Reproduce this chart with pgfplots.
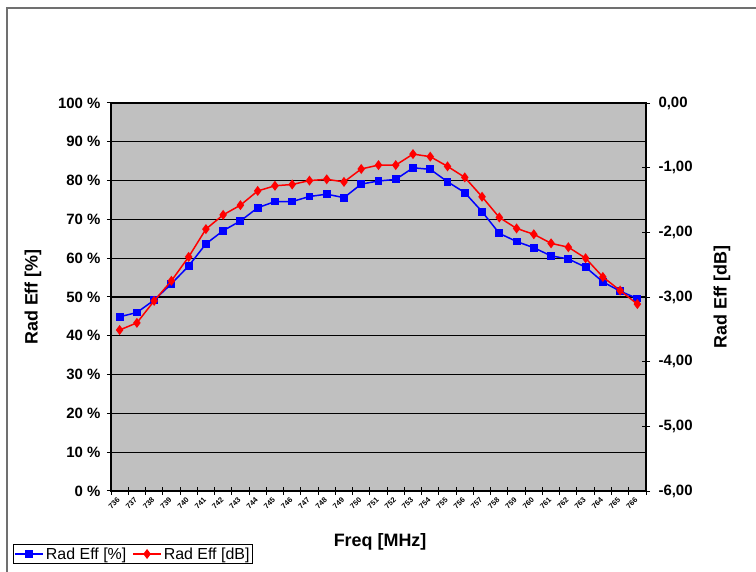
\documentclass[border=0pt]{standalone}
\usepackage{pgfplots}
\pgfplotsset{compat=1.18}
\usepackage{pgfplotstable}
\usepackage{fontspec}
\setmainfont{Liberation Sans}

\definecolor{plotgray}{HTML}{C0C0C0}
\definecolor{framegray}{HTML}{707070}
\definecolor{effblue}{HTML}{0000FF}
\definecolor{effred}{HTML}{FF0000}

% index 0..30 = 736..766 MHz
\pgfplotstableread{
i pct db
0 44.9 -3.51
1 46.0 -3.40
2 49.2 -3.06
3 53.4 -2.75
4 58.0 -2.38
5 63.7 -1.95
6 67.1 -1.73
7 69.6 -1.58
8 73.0 -1.36
9 74.6 -1.28
10 74.6 -1.26
11 75.9 -1.20
12 76.5 -1.18
13 75.6 -1.22
14 79.1 -1.02
15 79.9 -0.96
16 80.3 -0.96
17 83.3 -0.79
18 82.9 -0.83
19 79.7 -0.98
20 76.9 -1.15
21 72.0 -1.45
22 66.4 -1.77
23 64.3 -1.94
24 62.7 -2.03
25 60.6 -2.17
26 59.8 -2.23
27 57.7 -2.40
28 53.9 -2.69
29 51.5 -2.90
30 49.6 -3.11
}\effdata

\begin{document}
\begin{tikzpicture}
\path[use as bounding box] (0,0) rectangle (756bp,572bp);
\draw[framegray, line width=2bp] (7bp,0) -- (7bp,564bp) -- (756bp,564bp);

\pgfplotsset{
  effbase/.style={
    scale only axis, width=535bp, height=388bp,
    at={(111bp,81bp)}, anchor=south west,
    xmin=-0.5, xmax=30.5,
    axis line style={black, line width=1.2bp},
    tick style={black, line width=1bp},
    tick align=center, major tick length=8bp, minor tick length=8bp,
    /pgf/number format/assume math mode=true,
    tick label style={font=\bfseries\fontsize{15}{17}\selectfont},
    label style={font=\bfseries\fontsize{18}{20}\selectfont},
  },
}

\begin{axis}[
  effbase,
  axis background/.style={fill=plotgray},
  xtick pos=lower, ytick pos=left,
  ymin=0, ymax=100, ytick={0,10,...,100},
  yticklabel={\pgfmathprintnumber{\tick}\space\%},
  yticklabel style={xshift=-3bp},
  ymajorgrids, major grid style={black, line width=1.2bp},
  xtick={0,...,30},
  xticklabels={736,737,738,739,740,741,742,743,744,745,746,747,748,749,750,751,752,753,754,755,756,757,758,759,760,761,762,763,764,765,766},
  every major x tick/.append style={draw=none},
  minor xtick={-0.5,0.5,...,30.5},
  x tick label style={rotate=45, anchor=east, font=\bfseries\fontsize{7.5}{8}\selectfont, yshift=-2bp},
  ylabel={Rad Eff [\%]},
  ylabel style={at={(axis description cs:-0.146,0.5)}, anchor=center},
  xlabel={Freq [MHz]},
  xlabel style={at={(axis description cs:0.503,-0.131)}, anchor=center},
]
\addplot[effblue, line width=1.5bp, mark=square*, mark size=3.2bp,
  mark options={solid}] table[x=i, y=pct] {\effdata};
\end{axis}

\begin{axis}[
  effbase,
  axis x line=none, axis y line*=right,
  ymin=-6, ymax=0, ytick={-6,-5,...,0},
  yticklabel style={xshift=5bp, /pgf/number format/.cd, fixed, fixed zerofill, precision=2, use comma},
  ylabel={Rad Eff [dB]},
  ylabel style={at={(axis description cs:1.142,0.5)}, anchor=center, rotate=0},
  legend columns=2,
  legend image code/.code={\draw[mark repeat=2, mark phase=2] plot coordinates {(0bp,0bp) (14bp,0bp) (28bp,0bp)};},
  legend style={at={(axis description cs:-0.183,-0.188)}, anchor=south west,
    draw=black, line width=0.8bp, font=\fontsize{16}{18}\selectfont,
    inner sep=1bp, /tikz/every even column/.append style={column sep=4bp}},
]
\addlegendimage{effblue, line width=1.5bp, mark=square*, mark size=3.2bp}
\addlegendentry{Rad Eff [\%]}
\addplot[effred, line width=1.5bp, mark=diamond*, mark size=3.8bp] table[x=i, y=db] {\effdata};
\addlegendentry{Rad Eff [dB]}
\end{axis}
\end{tikzpicture}
\end{document}
